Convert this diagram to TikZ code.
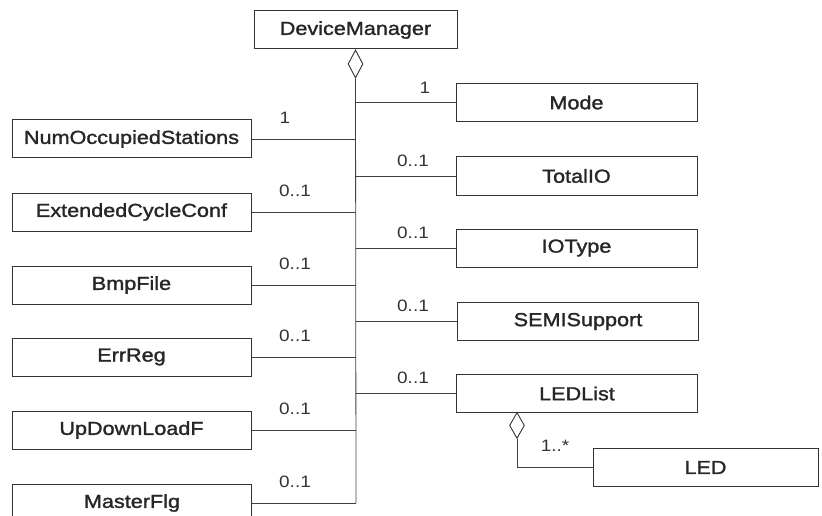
\documentclass[tikz,border=0pt]{standalone}
\usepackage{fontspec}
\setmainfont{Liberation Sans}[FakeStretch=1.15]
\newfontfamily\boxfont{Liberation Sans}[FakeStretch=1.15,FakeBold=1.5]
\usetikzlibrary{shapes.geometric}
\begin{document}
\begin{tikzpicture}[x=1pt,y=-1pt,
  cls/.style={draw=black!80,line width=1pt,rectangle,minimum height=38pt,inner sep=0pt,
    font=\boxfont\fontsize{18.8}{20}\selectfont,text=black!85},
  lcls/.style={cls,minimum width=239pt},
  rcls/.style={cls,minimum width=241pt},
  agg/.style={draw=black!80,line width=0.9pt,diamond,aspect=0.5,minimum width=15pt,minimum height=28pt,inner sep=0pt,fill=white},
  conn/.style={draw=black!75,line width=0.8pt},
  mult/.style={inner sep=0pt,font=\fontsize{16.5}{18}\selectfont,text=black!80}]
\useasboundingbox (0,0) rectangle (822,516);
% classes
\node[cls,minimum width=203pt] (dm) at (355.5,30) {DeviceManager};
\node[agg,anchor=north] (dmd) at (dm.south) {};
\node[lcls] (num) at (131.5,139) {NumOccupiedStations};
\node[lcls] (ext) at (131.5,212) {ExtendedCycleConf};
\node[lcls] (bmp) at (131.5,285) {BmpFile};
\node[lcls] (err) at (131.5,357) {ErrReg};
\node[lcls] (upd) at (131.5,430) {UpDownLoadF};
\node[lcls] (mst) at (132,503) {MasterFlg};
\node[rcls] (mode) at (576.5,102.5) {Mode};
\node[rcls] (tio) at (576.5,176) {TotalIO};
\node[rcls] (iot) at (576.5,248) {IOType};
\node[rcls] (semi) at (578,321.5) {SEMISupport};
\node[rcls] (ledl) at (577,393.5) {LEDList};
\node[cls,minimum width=225pt] (led) at (705.5,467.5) {LED};
\node[agg,anchor=north,minimum height=26pt] (ledd) at (517,412) {};
% trunk
\coordinate (tb) at (356,503);
\draw[conn] (dmd.south) -- (tb);
% branches
\draw[conn] (num.east) -- (num.east -| tb);
\draw[conn] (ext.east) -- (ext.east -| tb);
\draw[conn] (bmp.east) -- (bmp.east -| tb);
\draw[conn] (err.east) -- (err.east -| tb);
\draw[conn] (upd.east) -- (upd.east -| tb);
\draw[conn] (mst.east) -- (tb);
\draw[conn] (mode.west) -- (mode.west -| tb);
\draw[conn] (tio.west) -- (tio.west -| tb);
\draw[conn] (iot.west) -- (iot.west -| tb);
\draw[conn] (semi.west) -- (semi.west -| tb);
\draw[conn] (ledl.west) -- (ledl.west -| tb);
\draw[conn] (ledd.south) |- (led.west);
% multiplicities
\node[mult] (m1) at (285,117.5) {1};
\node[mult] (m2) at (295,191) {0..1};
\node[mult] (m3) at (295,264) {0..1};
\node[mult] (m4) at (295,336) {0..1};
\node[mult] (m5) at (295,409) {0..1};
\node[mult] (m6) at (295,482) {0..1};
\node[mult] (m7) at (425,87.5) {1};
\node[mult] (m8) at (413,161) {0..1};
\node[mult] (m9) at (413,233) {0..1};
\node[mult] (m10) at (413,306) {0..1};
\node[mult] (m11) at (413,378) {0..1};
\node[mult] (m12) at (555,446) {1..*};
\end{tikzpicture}
\end{document}
